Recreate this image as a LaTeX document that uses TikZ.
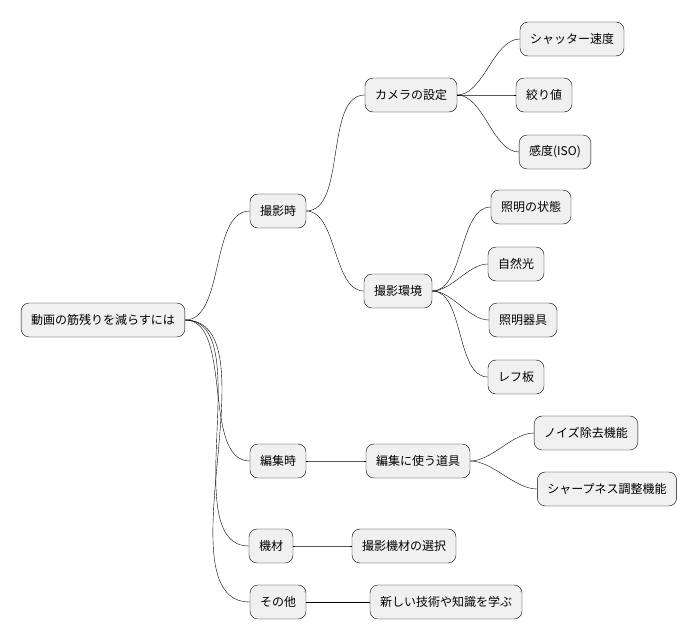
\documentclass[tikz,border=0pt]{standalone}
\usepackage{fontspec}
\setmainfont{Noto Sans CJK JP}
\tikzset{
  topic/.style={rectangle, rounded corners=8pt, draw=black, fill=gray!12, minimum height=34pt, inner xsep=10pt, font=\fontsize{12}{14}\selectfont},
  branch/.style={thin, out=0, in=180, looseness=0.8}
}
\begin{document}
\begin{tikzpicture}[x=1pt,y=-1pt]
\useasboundingbox (0,0) rectangle (698,640);

\node (root) [topic] at (103,320) {動画の筋残りを減らすには};

\node (shoot) [topic] at (278,211) {撮影時};
\node (camera) [topic] at (411,95) {カメラの設定};
\node (shutter) [topic] at (572,39) {シャッター速度};
\node (aperture) [topic] at (544,95) {絞り値};
\node (iso) [topic] at (555,152) {感度(ISO)};
\node (env) [topic] at (398,291) {撮影環境};
\node (lightstate) [topic] at (531,207) {照明の状態};
\node (natural) [topic] at (516,264) {自然光};
\node (lamp) [topic] at (523,320) {照明器具};
\node (reflector) [topic] at (516,377) {レフ板};

\node (edit) [topic] at (278,461) {編集時};
\node (tools) [topic] at (418,461) {編集に使う道具};
\node (noise) [topic] at (586,433) {ノイズ除去機能};
\node (sharp) [topic] at (607,489) {シャープネス調整機能};

\node (gear) [topic] at (271,546) {機材};
\node (choose) [topic] at (404,546) {撮影機材の選択};

\node (other) [topic] at (278,602) {その他};
\node (learn) [topic] at (446,602) {新しい技術や知識を学ぶ};

% links
\foreach \a/\b in {root/shoot, root/edit, root/gear, root/other,
  shoot/camera, shoot/env, camera/shutter, camera/aperture, camera/iso,
  env/lightstate, env/natural, env/lamp, env/reflector,
  edit/tools, tools/noise, tools/sharp, gear/choose, other/learn}
  \draw (\a.east) to[branch] (\b.west);

\end{tikzpicture}
\end{document}
